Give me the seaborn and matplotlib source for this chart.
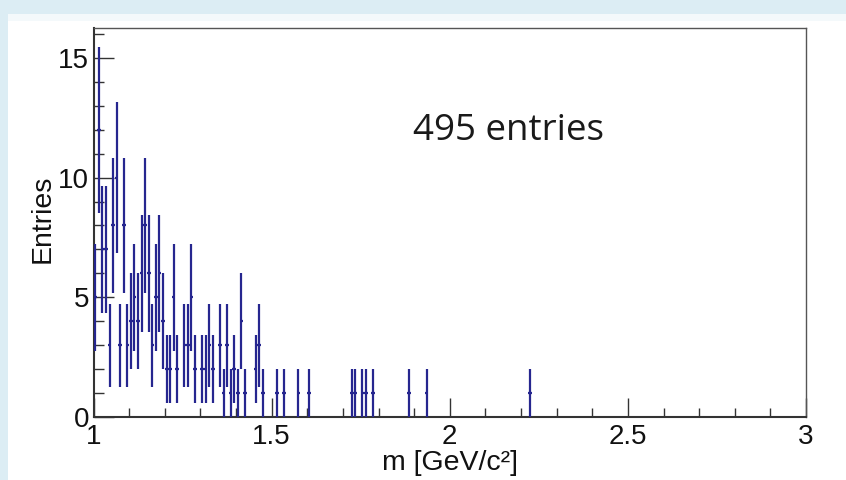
import numpy as np
import pandas as pd
import matplotlib
matplotlib.use("Agg")
import matplotlib.pyplot as plt
from matplotlib.ticker import MultipleLocator, FixedLocator
from matplotlib.patches import Rectangle
import seaborn as sns

# ---- data ----
bin_width = 0.01
mass_centers = [1.005, 1.015, 1.025, 1.035, 1.045, 1.055, 1.065, 1.075, 1.085, 1.095,
                1.105, 1.115, 1.125, 1.135, 1.145, 1.155, 1.165, 1.175, 1.185, 1.195,
                1.205, 1.215, 1.225, 1.235, 1.255, 1.265, 1.275, 1.285, 1.305, 1.315,
                1.325, 1.335, 1.355, 1.365, 1.375, 1.385, 1.395, 1.405, 1.415, 1.425,
                1.455, 1.465, 1.475, 1.515, 1.535, 1.575, 1.605, 1.725, 1.735, 1.755,
                1.765, 1.785, 1.885, 1.935, 2.225]
counts = [5, 12, 7, 7, 3, 8, 10, 3, 8, 3,
          4, 5, 4, 6, 8, 6, 3, 5, 6, 4,
          2, 2, 5, 2, 3, 3, 5, 2, 2, 2,
          3, 2, 3, 1, 3, 1, 2, 1, 4, 1,
          2, 3, 1, 1, 1, 1, 1, 1, 1, 1,
          1, 1, 1, 1, 1]
x_ticks_major = [1, 1.5, 2, 2.5, 3]
x_tick_labels = ["1", "1.5", "2", "2.5", "3"]
y_ticks_major = [0, 5, 10, 15]
y_tick_labels = ["0", "5", "10", "15"]
x_label = "m [GeV/c\u00b2]"
y_label = "Entries"
annotation = "495 entries"

df = pd.DataFrame({"m": mass_centers, "n": counts})
df["err"] = np.sqrt(df["n"])

sns.set_theme(style="ticks")
plt.rcParams["font.family"] = ["Liberation Sans", "DejaVu Sans"]

W, H = 846, 480
fig = plt.figure(figsize=(W / 100, H / 100), dpi=100)
fig.patch.set_facecolor("#dcedf4")
# white panel
fig.patches.append(Rectangle((8 / W, 0), 1, 1 - 14 / H, transform=fig.transFigure,
                             facecolor="white", edgecolor="none", zorder=-10))
fig.patches.append(Rectangle((8 / W, 1 - 21 / H), 1, 7 / H, transform=fig.transFigure,
                             facecolor="#f4f9fb", edgecolor="none", zorder=-9))

left, right, top, bottom = 93.5, 806, 28, 417
ax = fig.add_axes([left / W, 1 - bottom / H, (right - left) / W, (bottom - top) / H])
ax.set_facecolor("white")

navy = "#26268f"
ax.errorbar(df["m"], df["n"], yerr=df["err"], xerr=bin_width / 2, fmt="none",
            ecolor=navy, elinewidth=1.6, capsize=0, zorder=3)
sns.scatterplot(data=df, x="m", y="n", ax=ax, marker="s", s=4, color=navy,
                edgecolor=navy, linewidth=0, legend=False, zorder=4)

ax.set_xlim(1, 3)
ax.set_ylim(0, 16.25)

ax.xaxis.set_major_locator(FixedLocator(x_ticks_major))
ax.set_xticklabels(x_tick_labels)
ax.xaxis.set_minor_locator(MultipleLocator(0.1))
ax.yaxis.set_major_locator(FixedLocator(y_ticks_major))
ax.set_yticklabels(y_tick_labels)
ax.yaxis.set_minor_locator(MultipleLocator(1))

ax.tick_params(axis="x", which="major", direction="in", length=13.5, width=1.0,
               color="#333333", labelsize=20, pad=5, top=False)
ax.tick_params(axis="x", which="minor", direction="in", length=6.5, width=1.0,
               color="#333333", top=False)
ax.tick_params(axis="y", which="major", direction="in", length=14.4, width=1.0,
               color="#333333", labelsize=20, pad=3, right=False)
ax.tick_params(axis="y", which="minor", direction="in", length=7.2, width=1.0,
               color="#333333", right=False)
for lab in ax.get_xticklabels() + ax.get_yticklabels():
    lab.set_color("#111111")

for side in ["left", "bottom"]:
    ax.spines[side].set_linewidth(1.5)
    ax.spines[side].set_color("#333333")
for side in ["top", "right"]:
    ax.spines[side].set_linewidth(1.0)
    ax.spines[side].set_color("#555555")

ax.set_xlabel(x_label, fontsize=20.5, color="#111111")
ax.set_ylabel(y_label, fontsize=20.5, color="#111111")
ax.xaxis.set_label_coords(0.5, (bottom - 463) / (bottom - top))
ax.yaxis.set_label_coords((43 - left) / (right - left), (bottom - 219) / (bottom - top))
ax.xaxis.label.set_va("center")
ax.yaxis.label.set_va("center")

fig.text(508 / W, 1 - 131 / H, annotation, ha="center", va="center",
         fontsize=26.5, family=["Open Sans", "DejaVu Sans"], color="#1a1a1a")

fig.savefig("out.png", dpi=100)
